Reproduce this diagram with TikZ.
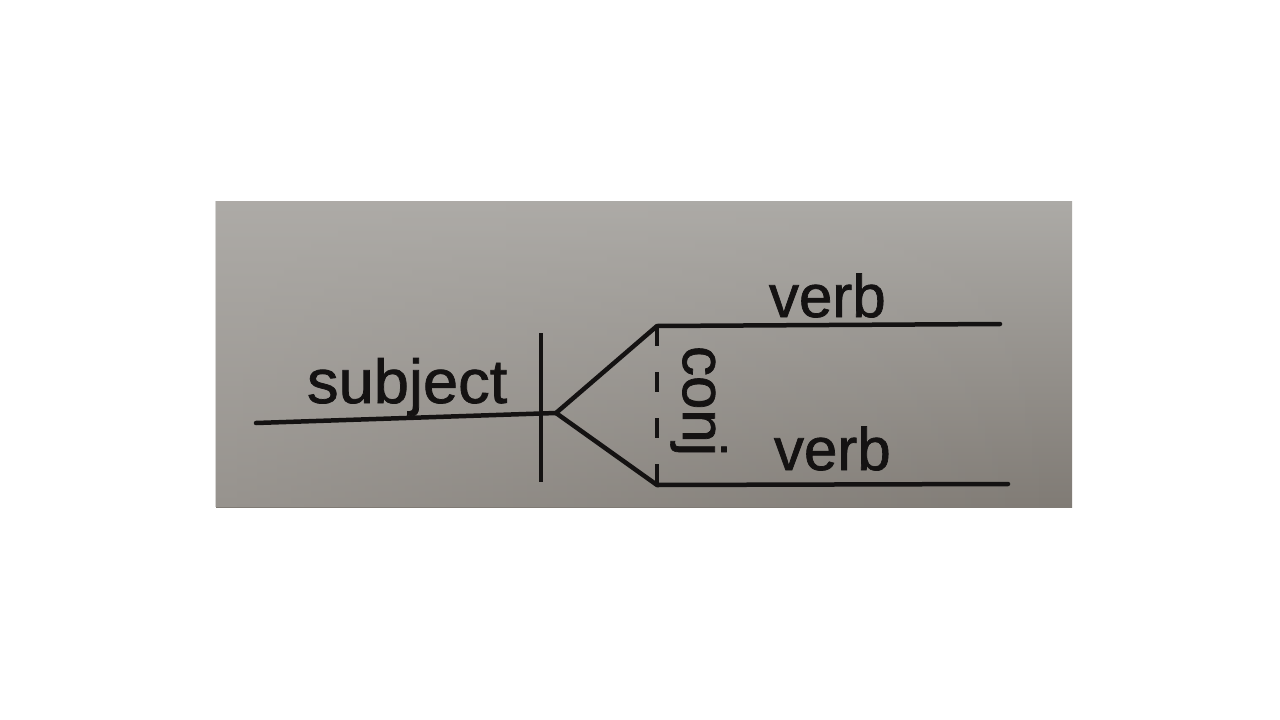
\documentclass[tikz,border=0pt]{standalone}
\usepackage{fontspec}
\setmainfont{Liberation Sans}
\newfontfamily\inkfont{Liberation Sans}[FakeBold=1.2]
\usetikzlibrary{fadings}
\definecolor{papertop}{RGB}{172,170,166}
\definecolor{paperbot}{RGB}{128,123,117}
\definecolor{paperright}{RGB}{175,172,168}
\definecolor{ink}{RGB}{20,18,18}
\begin{document}
\begin{tikzpicture}[x=1pt,y=-1pt,
  diag/.style={draw=ink,line width=4.5pt,line cap=round,line join=round},
  thin/.style={draw=ink,line width=3.4pt},
  lbl/.style={inner sep=0pt,outer sep=0pt,text=ink,font=\inkfont\fontsize{60}{60}\selectfont}]
\useasboundingbox (0,0) rectangle (1280,720);
\fill[white] (0,0) rectangle (1280,720);
\shade[top color=papertop,bottom color=paperbot] (216,201) rectangle (1072,507);
\fill[paperright,path fading=east,opacity=0.5] (216,201) rectangle (1072,507);
% coordinates
\coordinate (s0) at (256,423);
\coordinate (v) at (556,413);
\coordinate (bt) at (541,333);
\coordinate (bb) at (541,482);
\coordinate (ut) at (657,326);
\coordinate (lt) at (657,485);
\coordinate (ue) at (1000,324);
\coordinate (le) at (1008,484);
% lines
\draw[diag] (s0) -- (v);
\draw[thin] (bt) -- (bb);
\draw[diag] (v) -- (ut) -- (ue);
\draw[diag] (v) -- (lt) -- (le);
\draw[thin,dash pattern=on 20pt off 26pt] (ut) -- (lt);
% labels
\node[lbl,anchor=base west,font=\inkfont\fontsize{62}{62}\selectfont,xscale=1.02] (subj) at (307,403) {subject};
\node[lbl,anchor=base west] (verb1) at (769,317) {verb};
\node[lbl,anchor=base west] (verb2) at (774,470) {verb};
\node[lbl,anchor=base west,rotate=-90] (conj) at (683,346) {conj};
\end{tikzpicture}
\end{document}
